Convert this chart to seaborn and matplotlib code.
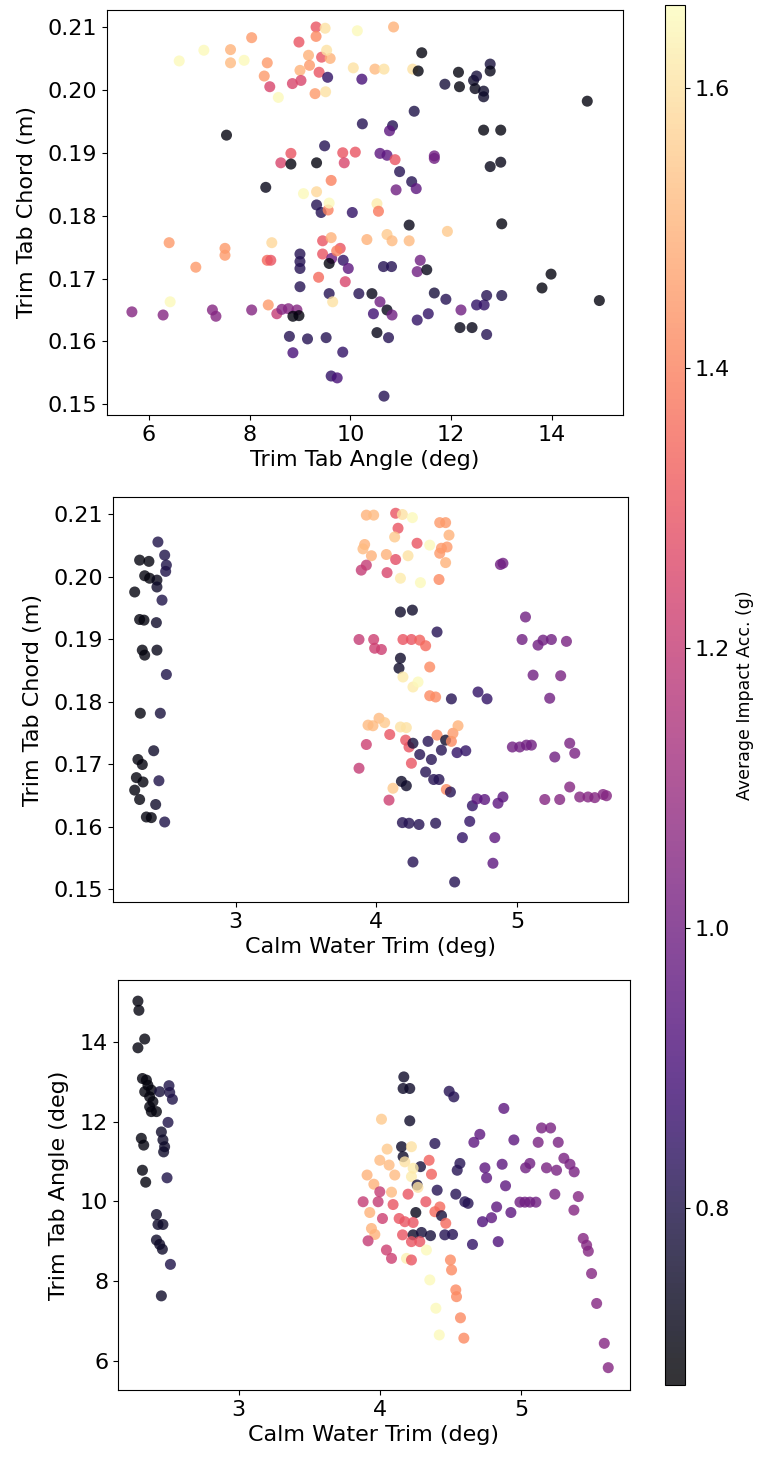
import matplotlib
matplotlib.use("Agg")
import matplotlib.pyplot as plt
import seaborn as sns
from matplotlib.colors import Normalize
from matplotlib.cm import ScalarMappable
from matplotlib.ticker import FormatStrFormatter

# ---------------- data ----------------
# Panel 1: Trim Tab Angle (deg) vs Trim Tab Chord (m)
p1_angle = [
    9.32, 9.50, 10.14, 8.04, 8.98, 9.32, 7.09, 7.62, 7.62, 6.60, 7.89, 8.35, 9.17, 9.43, 9.60, 9.53, 9.19, 9.00, 9.38, 9.55,
    10.23, 10.06, 8.29, 8.40, 8.85, 9.02, 9.30, 9.51, 8.57,
    7.54, 10.24, 9.49, 8.82, 8.62, 8.82, 9.33, 9.85, 10.10, 9.88, 9.62, 8.32, 9.07, 9.33, 9.33, 9.42, 9.56, 9.58, 10.04, 10.33,
    6.40, 7.51, 7.51, 8.44, 6.93, 8.35, 8.42, 9.00, 9.00, 9.00, 9.45, 9.62, 9.45, 9.63, 9.58, 9.80, 9.73, 9.86, 9.96, 9.37,
    9.90, 9.00, 9.58, 9.65, 10.17, 6.42, 5.66, 6.28, 7.26, 7.33, 8.04, 8.37, 8.54, 8.64, 8.77, 8.94, 8.86, 8.98, 8.79, 9.15,
    9.52, 8.86, 9.85, 9.62, 9.74,
    10.86, 11.42, 10.49, 10.67, 11.24, 11.35, 11.88, 12.15, 12.17, 12.45, 12.51, 12.48, 12.65, 12.65, 12.78, 12.78, 14.71,
    11.27, 10.84, 10.78, 12.65, 12.99, 10.59, 10.73, 10.89, 11.67, 11.67, 10.98, 10.91, 11.22, 11.31, 12.78, 12.99, 10.53,
    10.56, 11.17, 13.01, 10.73, 10.83, 11.17, 11.93, 10.66, 10.82, 11.39, 11.33, 11.52, 10.43, 10.59, 10.46, 10.73, 10.83,
    10.53, 10.76, 11.33, 11.55, 11.67, 11.90, 12.20, 12.18, 12.42, 12.51, 12.66, 12.71, 13.01, 12.71, 13.81, 13.99, 14.95,
    10.67,
]
p1_chord = [
    .2100, .2098, .2094, .2083, .2076, .2085, .2063, .2064, .2043, .2046, .2047, .2043, .2055, .2052, .2050, .2063, .2039,
    .2031, .2028, .2020, .2017, .2035, .2022, .2005, .2010, .2015, .1994, .1997, .1988,
    .1928, .1946, .1911, .1899, .1884, .1882, .1884, .1900, .1901, .1884, .1856, .1845, .1835, .1838, .1817, .1805, .1809,
    .1820, .1805, .1762,
    .1757, .1748, .1737, .1757, .1718, .1729, .1729, .1739, .1727, .1716, .1760, .1765, .1739, .1732, .1724, .1748, .1744,
    .1729, .1716, .1702, .1695, .1687, .1676, .1663, .1676, .1663, .1647, .1642, .1650, .1640, .1650, .1658, .1644, .1651,
    .1652, .1650, .1640, .1641, .1608, .1604, .1606, .1582, .1583, .1545, .1542,
    .2100, .2059, .2033, .2033, .2033, .2030, .2009, .2028, .2005, .2015, .2022, .2002, .1998, .1989, .2041, .2030, .1982,
    .1966, .1943, .1935, .1936, .1936, .1899, .1896, .1889, .1895, .1891, .1870, .1841, .1854, .1843, .1878, .1885, .1819,
    .1807, .1785, .1787, .1770, .1760, .1760, .1775, .1719, .1719, .1729, .1711, .1714, .1676, .1663, .1644, .1650, .1642,
    .1614, .1606, .1634, .1644, .1677, .1667, .1650, .1622, .1622, .1658, .1658, .1673, .1673, .1611, .1685, .1707, .1665,
    .1513,
]
p1_acc = [
    1.30, 1.60, 1.65, 1.45, 1.30, 1.42, 1.65, 1.50, 1.52, 1.65, 1.65, 1.45, 1.50, 1.30, 1.50, 1.60, 1.45, 1.50, 1.30, 0.85,
    0.90, 1.60, 1.45, 1.25, 1.25, 1.25, 1.45, 1.60, 1.65,
    0.70, 0.82, 0.82, 1.30, 1.25, 0.70, 0.70, 1.30, 1.30, 1.25, 1.40, 0.72, 1.65, 1.58, 0.82, 0.82, 1.40, 1.65, 0.85, 1.50,
    1.45, 1.45, 1.45, 1.58, 1.45, 1.35, 1.30, 0.82, 0.82, 0.82, 1.30, 1.50, 1.30, 1.00, 0.70, 1.30, 1.40, 0.85, 0.95, 1.35,
    1.25, 0.82, 0.82, 1.60, 0.82, 1.65, 1.05, 1.05, 1.05, 1.05, 1.05, 1.45, 1.20, 1.05, 1.05, 1.05, 0.70, 0.70, 0.82, 0.82,
    0.82, 0.90, 0.85, 0.85, 0.90,
    1.50, 0.70, 1.52, 1.60, 1.60, 0.70, 0.78, 0.70, 0.70, 0.75, 0.78, 0.72, 0.75, 0.75, 0.78, 0.72, 0.70, 0.80, 0.82, 0.95,
    0.70, 0.70, 0.95, 0.95, 1.30, 1.00, 1.00, 0.82, 1.00, 0.82, 0.95, 0.72, 0.72, 1.62, 1.38, 0.72, 0.70, 1.55, 1.52, 1.52,
    1.55, 0.82, 0.82, 1.00, 1.00, 0.72, 0.72, 1.00, 0.88, 0.72, 1.00, 0.72, 0.82, 0.85, 0.85, 0.78, 0.82, 1.00, 0.72, 0.72,
    0.85, 0.85, 0.82, 0.80, 0.82, 0.70, 0.70, 0.70, 0.82,
]

# Panel 2: Calm Water Trim (deg) vs Trim Tab Chord (m)
p2_trim = [
    2.448, 2.496, 2.318, 2.384, 2.508, 2.503, 2.354, 2.389, 2.441, 2.441, 2.283, 2.477, 2.318, 2.349, 2.437, 2.337, 2.354,
    2.441, 2.508, 2.323, 2.465, 2.418, 2.306, 2.337, 2.295, 2.342, 2.455, 2.283, 2.318, 2.432, 2.366, 2.401, 2.496,
    3.928, 3.916, 3.904, 3.876, 3.940, 3.928, 3.876,
    3.980, 4.136, 4.184, 4.255, 4.153, 4.129, 4.449, 4.491, 4.515, 4.288, 4.378, 3.964, 4.070, 4.224, 4.136, 4.461, 4.501,
    4.449, 4.491, 3.928, 3.892, 4.075, 4.170, 4.312, 4.444, 4.898, 4.880, 4.170, 4.255, 4.430, 3.980, 3.987, 4.035, 4.188,
    4.248, 4.307, 4.349, 4.170, 4.160, 4.378, 4.188, 4.259, 4.295, 4.378, 4.420, 4.532, 4.721, 4.785, 5.058, 5.034, 5.147,
    5.183, 5.242, 5.349, 5.112, 5.308, 5.230, 3.975, 4.018, 4.058, 4.170, 4.212, 4.094, 4.207, 4.231, 4.259, 4.366, 4.430,
    4.491, 4.532, 4.543, 4.579, 4.307, 4.461, 4.390, 4.572, 4.634, 4.248, 4.349, 4.406, 4.444, 4.177, 4.212, 4.117, 4.496,
    4.525, 4.089, 4.681, 4.714, 4.768, 4.863, 4.898, 4.965, 5.017, 5.065, 5.100, 5.372, 5.408, 5.266, 5.195, 5.301, 5.372,
    5.443, 5.502, 5.550, 5.609, 5.633, 4.184, 4.231, 4.302, 4.420, 4.662, 4.610, 4.840, 4.259, 4.827, 4.555,
]
p2_chord = [
    .2056, .2035, .2027, .2025, .2019, .2009, .2002, .1998, .1995, .1984, .1976, .1963, .1932, .1931, .1927, .1883, .1875,
    .1883, .1844, .1782, .1782, .1722, .1708, .1700, .1679, .1672, .1674, .1659, .1644, .1636, .1616, .1615, .1608,
    .2099, .2052, .2045, .1900, .1763, .1732, .1694,
    .2099, .2102, .2100, .2095, .2078, .2064, .2087, .2087, .2067, .2054, .2051, .2034, .2036, .2034, .2028, .2046, .2048,
    .2038, .2023, .2019, .2011, .2007, .1998, .1991, .1996, .2022, .2020, .1944, .1947, .1912, .1900, .1886, .1884, .1900,
    .1900, .1899, .1890, .1870, .1854, .1856, .1840, .1824, .1832, .1810, .1808, .1805, .1816, .1805, .1936, .1900, .1891,
    .1899, .1900, .1897, .1843, .1842, .1806, .1762, .1774, .1767, .1760, .1759, .1748, .1739, .1728, .1734, .1737, .1747,
    .1739, .1737, .1750, .1762, .1716, .1723, .1708, .1719, .1722, .1702, .1688, .1676, .1676, .1673, .1666, .1662, .1660,
    .1656, .1643, .1634, .1645, .1644, .1638, .1648, .1728, .1728, .1731, .1731, .1734, .1718, .1712, .1644, .1644, .1664,
    .1648, .1648, .1647, .1652, .1650, .1607, .1606, .1604, .1606, .1609, .1583, .1583, .1544, .1542, .1512,
]
p2_acc = [
    0.80, 0.80, 0.70, 0.70, 0.80, 0.80, 0.70, 0.70, 0.72, 0.75, 0.70, 0.80, 0.70, 0.70, 0.75, 0.70, 0.70, 0.72, 0.80, 0.70,
    0.78, 0.75, 0.70, 0.70, 0.70, 0.70, 0.80, 0.70, 0.70, 0.75, 0.70, 0.70, 0.80,
    1.50, 1.50, 1.52, 1.20, 1.52, 1.22, 1.20,
    1.52, 1.30, 1.60, 1.65, 1.30, 1.55, 1.45, 1.45, 1.50, 1.30, 1.65, 1.50, 1.50, 1.60, 1.28, 1.45, 1.45, 1.45, 1.50, 1.20,
    1.20, 1.25, 1.62, 1.65, 1.42, 1.00, 1.00, 0.75, 0.75, 0.82, 1.22, 1.22, 1.22, 1.30, 1.30, 1.33, 1.35, 0.75, 0.75, 1.42,
    1.62, 1.62, 1.65, 1.42, 1.42, 0.82, 0.85, 0.85, 1.00, 1.00, 1.00, 1.00, 1.00, 1.02, 1.00, 1.02, 1.00, 1.52, 1.52, 1.55,
    1.60, 1.60, 1.30, 1.30, 1.30, 0.78, 0.82, 1.42, 0.75, 1.42, 1.45, 1.50, 0.82, 0.82, 0.82, 0.85, 0.85, 1.30, 0.82, 0.82,
    0.82, 0.75, 0.75, 1.55, 1.42, 0.82, 1.22, 0.85, 0.95, 0.95, 0.95, 0.95, 1.00, 1.00, 1.00, 1.00, 1.02, 1.02, 1.00, 1.05,
    1.05, 1.05, 1.05, 1.05, 1.05, 1.05, 1.05, 0.82, 0.82, 0.82, 0.82, 0.85, 0.85, 0.95, 0.82, 0.95, 0.82,
]

# Panel 3: Calm Water Trim (deg) vs Trim Tab Angle (deg)
p3_trim = [
    2.288, 2.295, 2.288, 2.336, 2.320, 2.348, 2.359, 2.383, 2.336, 2.371, 2.394, 2.371, 2.383, 2.419, 2.442, 2.508, 2.513,
    2.532, 2.501, 2.312, 2.329, 2.454, 2.465, 2.477, 2.470, 2.320, 2.343, 2.494, 2.419, 2.430, 2.465, 2.419, 2.442, 2.461,
    2.518, 2.454,
    4.170, 4.165, 4.212, 4.491, 4.524, 4.878, 4.012, 4.212, 5.145, 5.209, 4.708, 4.666, 4.949, 5.121, 5.263, 4.390, 4.052,
    4.154, 4.224, 4.165, 4.000, 4.066, 4.177, 4.288, 4.349, 4.236, 4.567, 4.548, 4.744, 4.756, 4.866, 5.032, 5.062, 5.180,
    5.251, 5.303, 5.346, 5.376, 3.910, 4.106, 4.366, 3.958, 4.224, 4.264, 4.270, 4.406, 4.890, 4.083, 4.000, 3.988, 3.882,
    4.200, 4.538, 4.602, 4.625, 5.239, 5.405, 4.992, 5.027, 5.062, 5.105, 5.374, 4.094, 4.326, 4.390, 4.425, 4.437, 4.255,
    3.929, 4.019, 4.137, 4.177, 4.236, 4.827, 4.928, 4.791, 4.727, 4.467, 3.941, 3.965, 4.161, 4.236, 4.295, 4.359, 4.460,
    4.515, 4.224, 4.283, 3.917, 4.656, 4.838, 4.330, 4.047, 4.083, 4.189, 4.224, 4.500, 4.508, 5.440, 5.464, 5.476, 5.499,
    5.535, 5.589, 5.617, 4.354, 4.397, 4.421, 4.538, 4.543, 4.571, 4.595,
]
p3_angle = [
    15.02, 14.79, 13.85, 14.07, 13.08, 13.04, 12.91, 12.79, 12.75, 12.62, 12.50, 12.37, 12.25, 12.25, 12.75, 12.90, 12.73,
    12.56, 11.98, 11.58, 11.41, 11.74, 11.54, 11.37, 11.24, 10.78, 10.48, 10.59, 9.67, 9.42, 9.42, 9.03, 8.92, 8.80, 8.42,
    7.63,
    13.12, 12.83, 12.83, 12.76, 12.62, 12.33, 12.06, 12.02, 11.84, 11.84, 11.68, 11.48, 11.54, 11.48, 11.48, 11.45, 11.31,
    11.37, 11.37, 11.12, 11.03, 10.91, 10.99, 10.87, 11.03, 10.83, 10.95, 10.78, 10.84, 10.59, 10.93, 10.84, 10.95, 10.84,
    10.78, 11.08, 10.93, 10.74, 10.66, 10.66, 10.68, 10.43, 10.62, 10.41, 10.35, 10.28, 10.39, 10.23, 10.24, 9.99, 9.99,
    10.18, 10.18, 9.99, 9.95, 10.18, 10.12, 9.98, 9.98, 9.98, 9.98, 9.78, 9.92, 9.99, 9.74, 9.86, 9.64, 9.72,
    9.72, 9.57, 9.57, 9.49, 9.47, 9.86, 9.72, 9.59, 9.49, 9.45, 9.32, 9.17, 9.16, 9.16, 9.22, 9.14, 9.16,
    9.17, 8.99, 8.99, 9.01, 8.92, 8.99, 8.78, 8.78, 8.57, 8.57, 8.53, 8.53, 8.28, 9.07, 8.90, 8.75, 8.19,
    7.44, 6.44, 5.83, 8.03, 7.32, 6.65, 7.78, 7.61, 7.08, 6.57,
]
p3_acc = [
    0.70, 0.70, 0.70, 0.70, 0.70, 0.70, 0.70, 0.70, 0.70, 0.70, 0.70, 0.70, 0.70, 0.70, 0.78, 0.80, 0.80, 0.80, 0.80, 0.70,
    0.70, 0.75, 0.75, 0.75, 0.75, 0.70, 0.70, 0.80, 0.75, 0.75, 0.75, 0.75, 0.75, 0.75, 0.80, 0.75,
    0.75, 0.75, 0.75, 0.82, 0.82, 0.95, 1.55, 0.75, 1.02, 1.02, 0.95, 0.95, 0.95, 1.02, 1.02, 0.82, 1.55,
    0.75, 1.60, 0.75, 1.52, 1.52, 1.60, 0.78, 1.33, 1.62, 0.82, 0.82, 0.95, 0.95, 0.95, 1.00, 1.00, 1.02,
    1.02, 1.02, 1.02, 1.02, 1.50, 1.52, 1.33, 1.50, 1.62, 0.78, 1.60, 0.82, 0.95, 1.52, 1.20, 1.20, 1.20,
    1.30, 0.82, 0.82, 0.82, 1.02, 1.05, 1.00, 1.00, 1.00, 1.00, 1.05, 1.30, 1.30, 1.35, 1.35, 0.78, 0.72,
    1.50, 1.22, 1.30, 1.30, 1.30, 0.95, 0.95, 0.95, 0.92, 1.35, 1.50, 1.50, 1.30, 0.75, 0.78, 0.78, 0.82,
    0.82, 1.30, 1.30, 1.20, 0.85, 0.92, 1.65, 1.22, 1.22, 1.63, 1.30, 1.42, 1.42, 1.05, 1.05, 1.05, 1.05,
    1.05, 1.05, 1.05, 1.65, 1.65, 1.65, 1.42, 1.42, 1.42, 1.42,
]

chord_ticks = [0.15, 0.16, 0.17, 0.18, 0.19, 0.20, 0.21]
angle_ticks = [6, 8, 10, 12, 14]
trim_ticks = [3, 4, 5]
cbar_ticks = [0.8, 1.0, 1.2, 1.4, 1.6]
acc_range = (0.674, 1.659)

# ---------------- figure ----------------
W, H = 760, 1461
fig = plt.figure(figsize=(W / 100, H / 100), dpi=100)
ax1 = fig.add_axes([107 / W, 1 - 415 / H, 516 / W, 405 / H])
ax2 = fig.add_axes([113 / W, 1 - 902 / H, 515 / W, 405 / H])
ax3 = fig.add_axes([118 / W, 1 - 1390 / H, 512 / W, 410 / H])
cax = fig.add_axes([665 / W, 1 - 1385 / H, 20 / W, 1380 / H])

norm = Normalize(*acc_range)
FS = 16


def draw(ax, x, y, c):
    sns.scatterplot(x=x, y=y, hue=c, palette="magma", hue_norm=acc_range, s=63,
                    alpha=0.8, linewidth=0, legend=False, ax=ax)
    ax.tick_params(labelsize=FS)


draw(ax1, p1_angle, p1_chord, p1_acc)
ax1.set_xlim(5.165, 15.42)
ax1.set_ylim(0.1483, 0.2127)
ax1.set_xticks(angle_ticks)
ax1.set_yticks(chord_ticks)
ax1.yaxis.set_major_formatter(FormatStrFormatter("%.2f"))
ax1.set_xlabel("Trim Tab Angle (deg)", fontsize=FS)
ax1.set_ylabel("Trim Tab Chord (m)", fontsize=FS, labelpad=8)

draw(ax2, p2_trim, p2_chord, p2_acc)
ax2.set_xlim(2.129, 5.786)
ax2.set_ylim(0.148, 0.2128)
ax2.set_xticks(trim_ticks)
ax2.set_yticks(chord_ticks)
ax2.yaxis.set_major_formatter(FormatStrFormatter("%.2f"))
ax2.set_xlabel("Calm Water Trim (deg)", fontsize=FS)
ax2.set_ylabel("Trim Tab Chord (m)", fontsize=FS, labelpad=8)

draw(ax3, p3_trim, p3_angle, p3_acc)
ax3.set_xlim(2.147, 5.771)
ax3.set_ylim(5.27, 15.55)
ax3.set_xticks(trim_ticks)
ax3.set_yticks(angle_ticks)
ax3.set_xlabel("Calm Water Trim (deg)", fontsize=FS)
ax3.set_ylabel("Trim Tab Angle (deg)", fontsize=FS, labelpad=8)

sm = ScalarMappable(norm=norm, cmap="magma")
sm.set_array([])
cb = fig.colorbar(sm, cax=cax, alpha=0.8)
cb.set_ticks(cbar_ticks)
cb.ax.yaxis.set_major_formatter(FormatStrFormatter("%.1f"))
cb.ax.tick_params(labelsize=FS)
cb.set_label("Average Impact Acc. (g)", fontsize=12.5, labelpad=4)

fig.savefig("out.png", dpi=100)
